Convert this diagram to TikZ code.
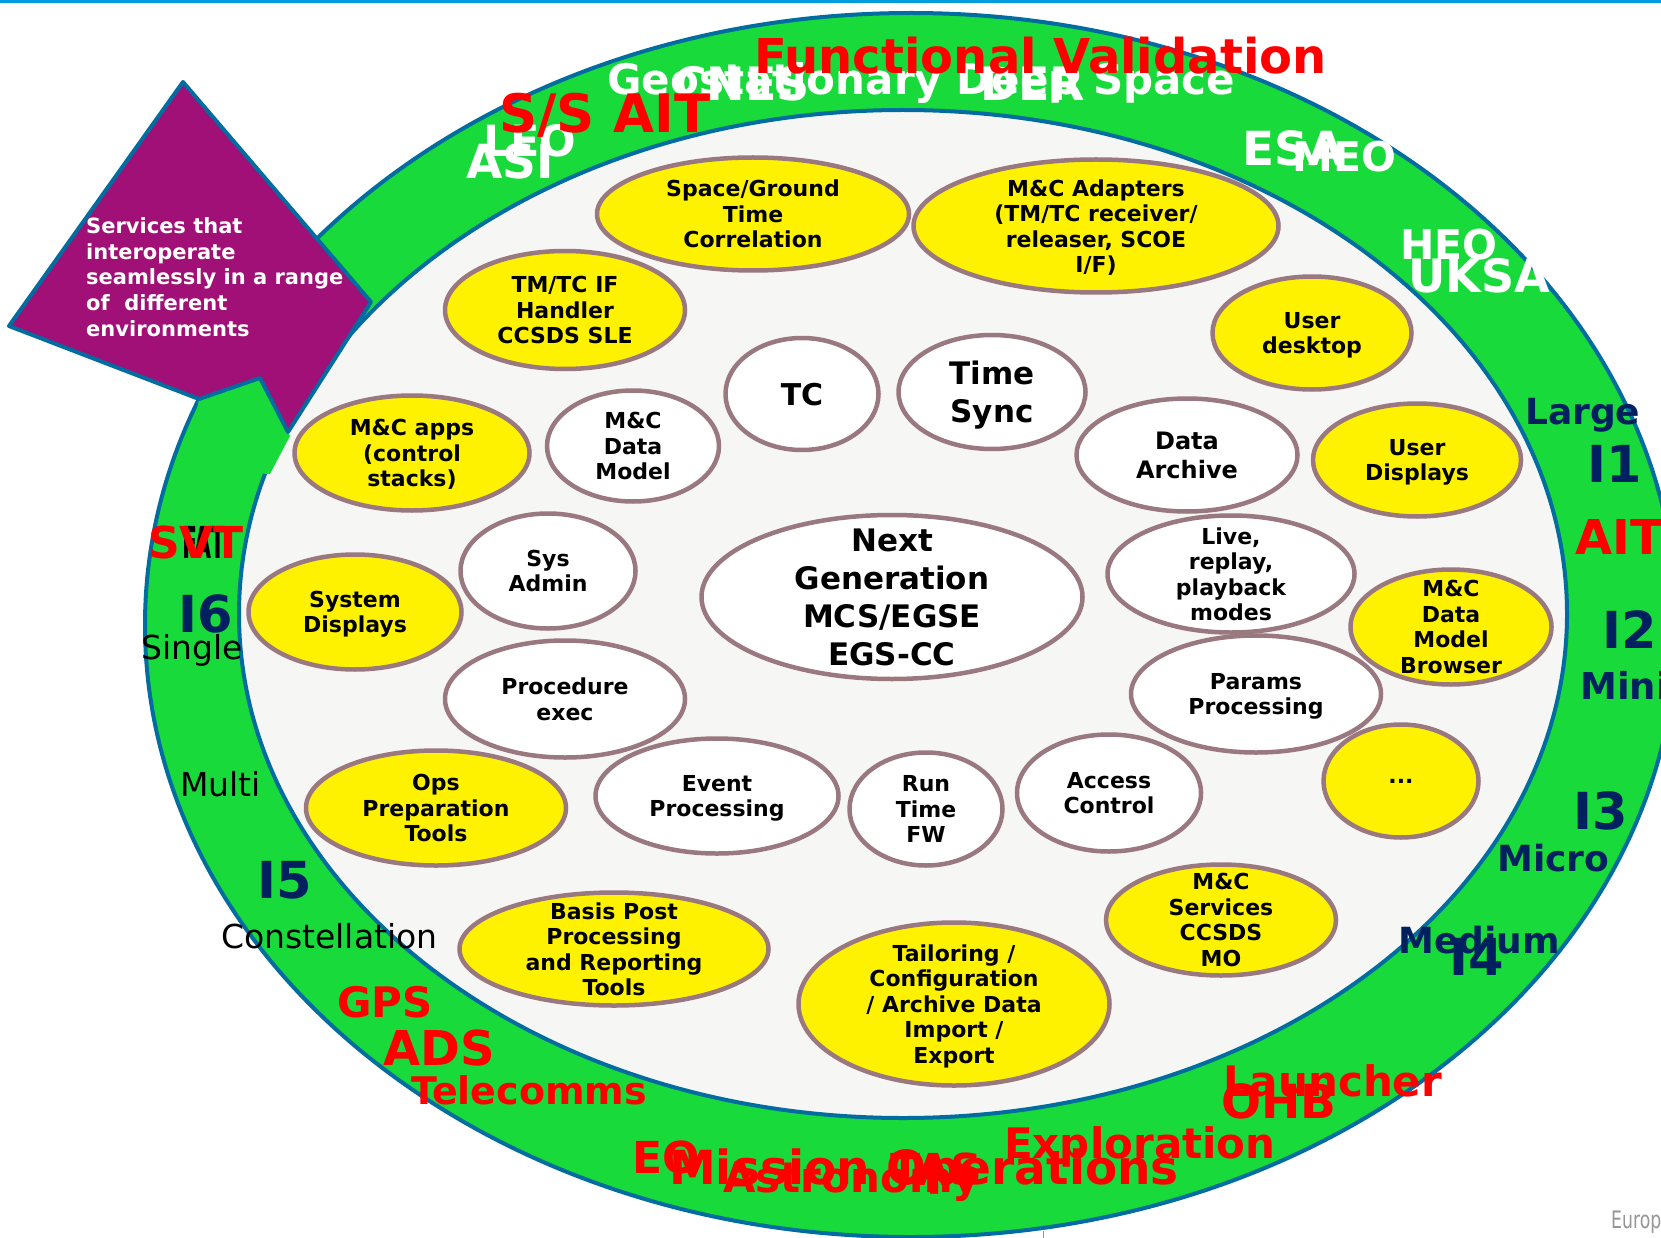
\documentclass[tikz,border=0pt]{standalone}
\usepackage{fontspec}
\setmainfont{DejaVu Sans}
\usetikzlibrary{shapes.geometric}
\definecolor{ringgreen}{RGB}{24,218,58}
\definecolor{ringblue}{RGB}{0,108,160}
\definecolor{topblue}{RGB}{0,156,222}
\definecolor{innergrey}{RGB}{246,246,244}
\definecolor{bubedge}{RGB}{154,120,128}
\definecolor{callout}{RGB}{160,16,118}
\definecolor{navy}{RGB}{0,32,96}
\definecolor{greytext}{RGB}{150,150,150}
\newcommand{\sz}[1]{\fontsize{#1}{#1}\selectfont}
\tikzset{
  bub/.style={ellipse, draw=bubedge, line width=4.5pt, align=center, inner sep=-30pt,
    text depth=0pt, font=\bfseries\fontsize{22}{25.5}\selectfont},
  yel/.style={bub, fill=yellow},
  wht/.style={bub, fill=white},
  wh/.style 2 args={minimum width=#1pt, minimum height=#2pt},
  lab/.style={anchor=base west, inner sep=0pt},
}
\begin{document}
\begin{tikzpicture}[x=1pt, y=-1pt]
  \useasboundingbox (0,0) rectangle (1661,1238);
  \clip (0,0) rectangle (1661,1238);
  \fill[white] (0,0) rectangle (1661,1238);
  \fill[topblue] (0,0) rectangle (1661,3);
  % ring
  \filldraw[fill=ringgreen, draw=ringblue, line width=4pt] (911,625) ellipse [x radius=766pt, y radius=612pt];
  \filldraw[fill=innergrey, draw=ringblue, line width=4pt] (903,614) ellipse [x radius=664pt, y radius=504pt];
  % arrow head and call-out
  \fill[ringgreen] (199,399) -- (260,378) -- (290,436) -- (270,474) -- (185,470) -- cycle;
  \filldraw[fill=callout, draw=ringblue, line width=4pt, line join=round]
    (183,82) -- (371,302) -- (288,432) -- (260,378) -- (199,399) -- (9,326) -- cycle;
  \node[anchor=west, align=left, inner sep=0pt, white, font=\bfseries\fontsize{21}{25.7}\selectfont] (services) at (86,277)
    {Services that\\interoperate\\seamlessly in a range\\of\ \ different\\environments};
  % bubbles
  \node[yel, wh={312}{113}] (sgtc) at (753,214) {Space/Ground\\Time\\Correlation};
  \node[yel, wh={365}{133}] (adapters) at (1096,226) {M\&C Adapters\\(TM/TC receiver/\\releaser, SCOE\\I/F)};
  \node[yel, wh={240}{118}] (tmtc) at (565,310) {TM/TC IF\\Handler\\CCSDS SLE};
  \node[yel, wh={199}{113}] (desktop) at (1312,333) {User\\desktop};
  \node[wht, wh={153}{112}, font=\bfseries\fontsize{30}{38}\selectfont] (tc) at (802,394) {TC};
  \node[wht, wh={187}{114}, font=\bfseries\fontsize{31}{38}\selectfont] (sync) at (992,392) {Time\\Sync};
  \node[yel, wh={235}{115}] (apps) at (412,453) {M\&C apps\\(control\\stacks)};
  \node[wht, wh={172}{111}] (model) at (633,446) {M\&C\\Data\\Model};
  \node[wht, wh={221}{113}, font=\bfseries\fontsize{24}{28.6}\selectfont] (archive) at (1187,455) {Data\\Archive};
  \node[yel, wh={208}{113}] (udisp) at (1417,460) {User\\Displays};
  \node[wht, wh={381}{164}, font=\bfseries\fontsize{31}{38}\selectfont] (egscc) at (892,597) {Next\\Generation\\MCS/EGSE\\EGS-CC};
  \node[wht, wh={175}{115}] (admin) at (548,571) {Sys\\Admin};
  \node[yel, wh={213}{115}] (sdisp) at (355,612) {System\\Displays};
  \node[wht, wh={247}{117}] (modes) at (1231,574) {Live,\\replay,\\playback\\modes};
  \node[yel, wh={201}{115}] (browser) at (1451,627) {M\&C\\Data\\Model\\Browser};
  \node[wht, wh={240}{117}] (proc) at (565,699) {Procedure\\exec};
  \node[wht, wh={250}{117}] (params) at (1256,694) {Params\\Processing};
  \node[yel, wh={260}{115}] (ops) at (436,808) {Ops\\Preparation\\Tools};
  \node[wht, wh={243}{115}] (events) at (717,796) {Event\\Processing};
  \node[wht, wh={153}{113}] (runtime) at (926,809) {Run\\Time\\FW};
  \node[wht, wh={184}{117}] (access) at (1109,793) {Access\\Control};
  \node[yel, wh={155}{113}] (more) at (1401,781) {...};
  \node[yel, wh={230}{111}] (mo) at (1221,920) {M\&C\\Services\\CCSDS\\MO};
  \node[yel, wh={309}{113}] (post) at (614,949) {Basis Post\\Processing\\and Reporting\\Tools};
  \node[yel, wh={311}{163}] (tailor) at (954,1004) {Tailoring /\\Configuration\\/ Archive Data\\Import /\\Export};
  % ring labels, top
  \node[lab, white, font=\bfseries\sz{42}] (geo) at (607,95) {Geostationary Deep Space};
  \node[lab, white, font=\bfseries\sz{46}] (cnes) at (673,101) {CNES};
  \node[lab, white, font=\bfseries\sz{46}] (der) at (980,101) {DER};
  \node[lab, red, font=\bfseries\sz{48}] (funcval) at (754,74) {Functional Validation};
  \node[lab, white, font=\bfseries\sz{43}] (leo) at (483,157) {LEO};
  \node[lab, red, font=\bfseries\sz{53}] (ssait) at (499,133) {S/S AIT};
  \node[lab, white, font=\bfseries\sz{47}] (asi) at (466,179) {ASI};
  \node[lab, white, font=\bfseries\sz{47}] (esa) at (1242,166) {ESA};
  \node[lab, white, font=\bfseries\sz{41}] (meo) at (1292,172) {MEO};
  \node[lab, white, font=\bfseries\sz{41}] (heo) at (1400,260) {HEO};
  \node[lab, white, font=\bfseries\sz{46}] (uksa) at (1408,293) {UKSA};
  % ring labels, right
  \node[lab, navy, font=\bfseries\sz{36}] (large) at (1525,424) {Large};
  \node[lab, navy, font=\bfseries\sz{51}] (ione) at (1587,482) {I1};
  \node[lab, red, font=\bfseries\sz{48}] (ait) at (1575,554) {AIT};
  \node[lab, navy, font=\bfseries\sz{51}] (itwo) at (1602,648) {I2};
  \node[lab, navy, font=\bfseries\sz{37}] (mini) at (1580,699) {Mini};
  \node[lab, navy, font=\bfseries\sz{51}] (ithree) at (1573,829) {I3};
  \node[lab, navy, font=\bfseries\sz{36}] (micro) at (1497,871) {Micro};
  \node[lab, navy, font=\bfseries\sz{36}] (medium) at (1398,953) {Medium};
  \node[lab, navy, font=\bfseries\sz{51}] (ifour) at (1449,975) {I4};
  % ring labels, left
  \node[lab, black, font=\bfseries\sz{44}] (fat) at (182,558) {\scalebox{0.5}[1]{FAT}};
  \node[lab, red, font=\bfseries\sz{44}] (svt) at (148,558) {SVT};
  \node[lab, navy, font=\bfseries\sz{51}] (isix) at (178,632) {I6};
  \node[lab, black, font=\sz{33}] (single) at (141,659) {Single};
  \node[lab, black, font=\sz{33}] (multi) at (180,796) {Multi};
  \node[lab, navy, font=\bfseries\sz{51}] (ifive) at (257,898) {I5};
  \node[lab, black, font=\sz{33}] (constel) at (221,948) {Constellation};
  % ring labels, bottom
  \node[lab, red, font=\bfseries\sz{42}] (gps) at (337,1017) {GPS};
  \node[lab, red, font=\bfseries\sz{48}] (ads) at (383,1065) {ADS};
  \node[lab, red, font=\bfseries\sz{38}] (telecom) at (411,1104) {Telecomms};
  \node[lab, red, font=\bfseries\sz{44}] (eo) at (632,1173) {EO};
  \node[lab, red, font=\bfseries\sz{47}] (missops) at (669,1184) {Mission Operations};
  \node[lab, red, font=\bfseries\sz{42}] (astro) at (723,1192) {Astronomy};
  \node[lab, red, font=\bfseries\sz{44}] (tas) at (890,1185) {TAS};
  \node[lab, red, font=\bfseries\sz{42}] (explor) at (1004,1158) {Exploration};
  \node[lab, red, font=\bfseries\sz{42}] (launch) at (1223,1096) {Launcher};
  \node[lab, red, font=\bfseries\sz{47}] (ohb) at (1221,1118) {OHB};
  \node[lab, greytext, font=\sz{24}] (europ) at (1611,1228) {\scalebox{0.72}[1]{Europ}};
  \draw[greytext, line width=1pt] (1043,1231) -- (1043,1238);
\end{tikzpicture}
\end{document}
